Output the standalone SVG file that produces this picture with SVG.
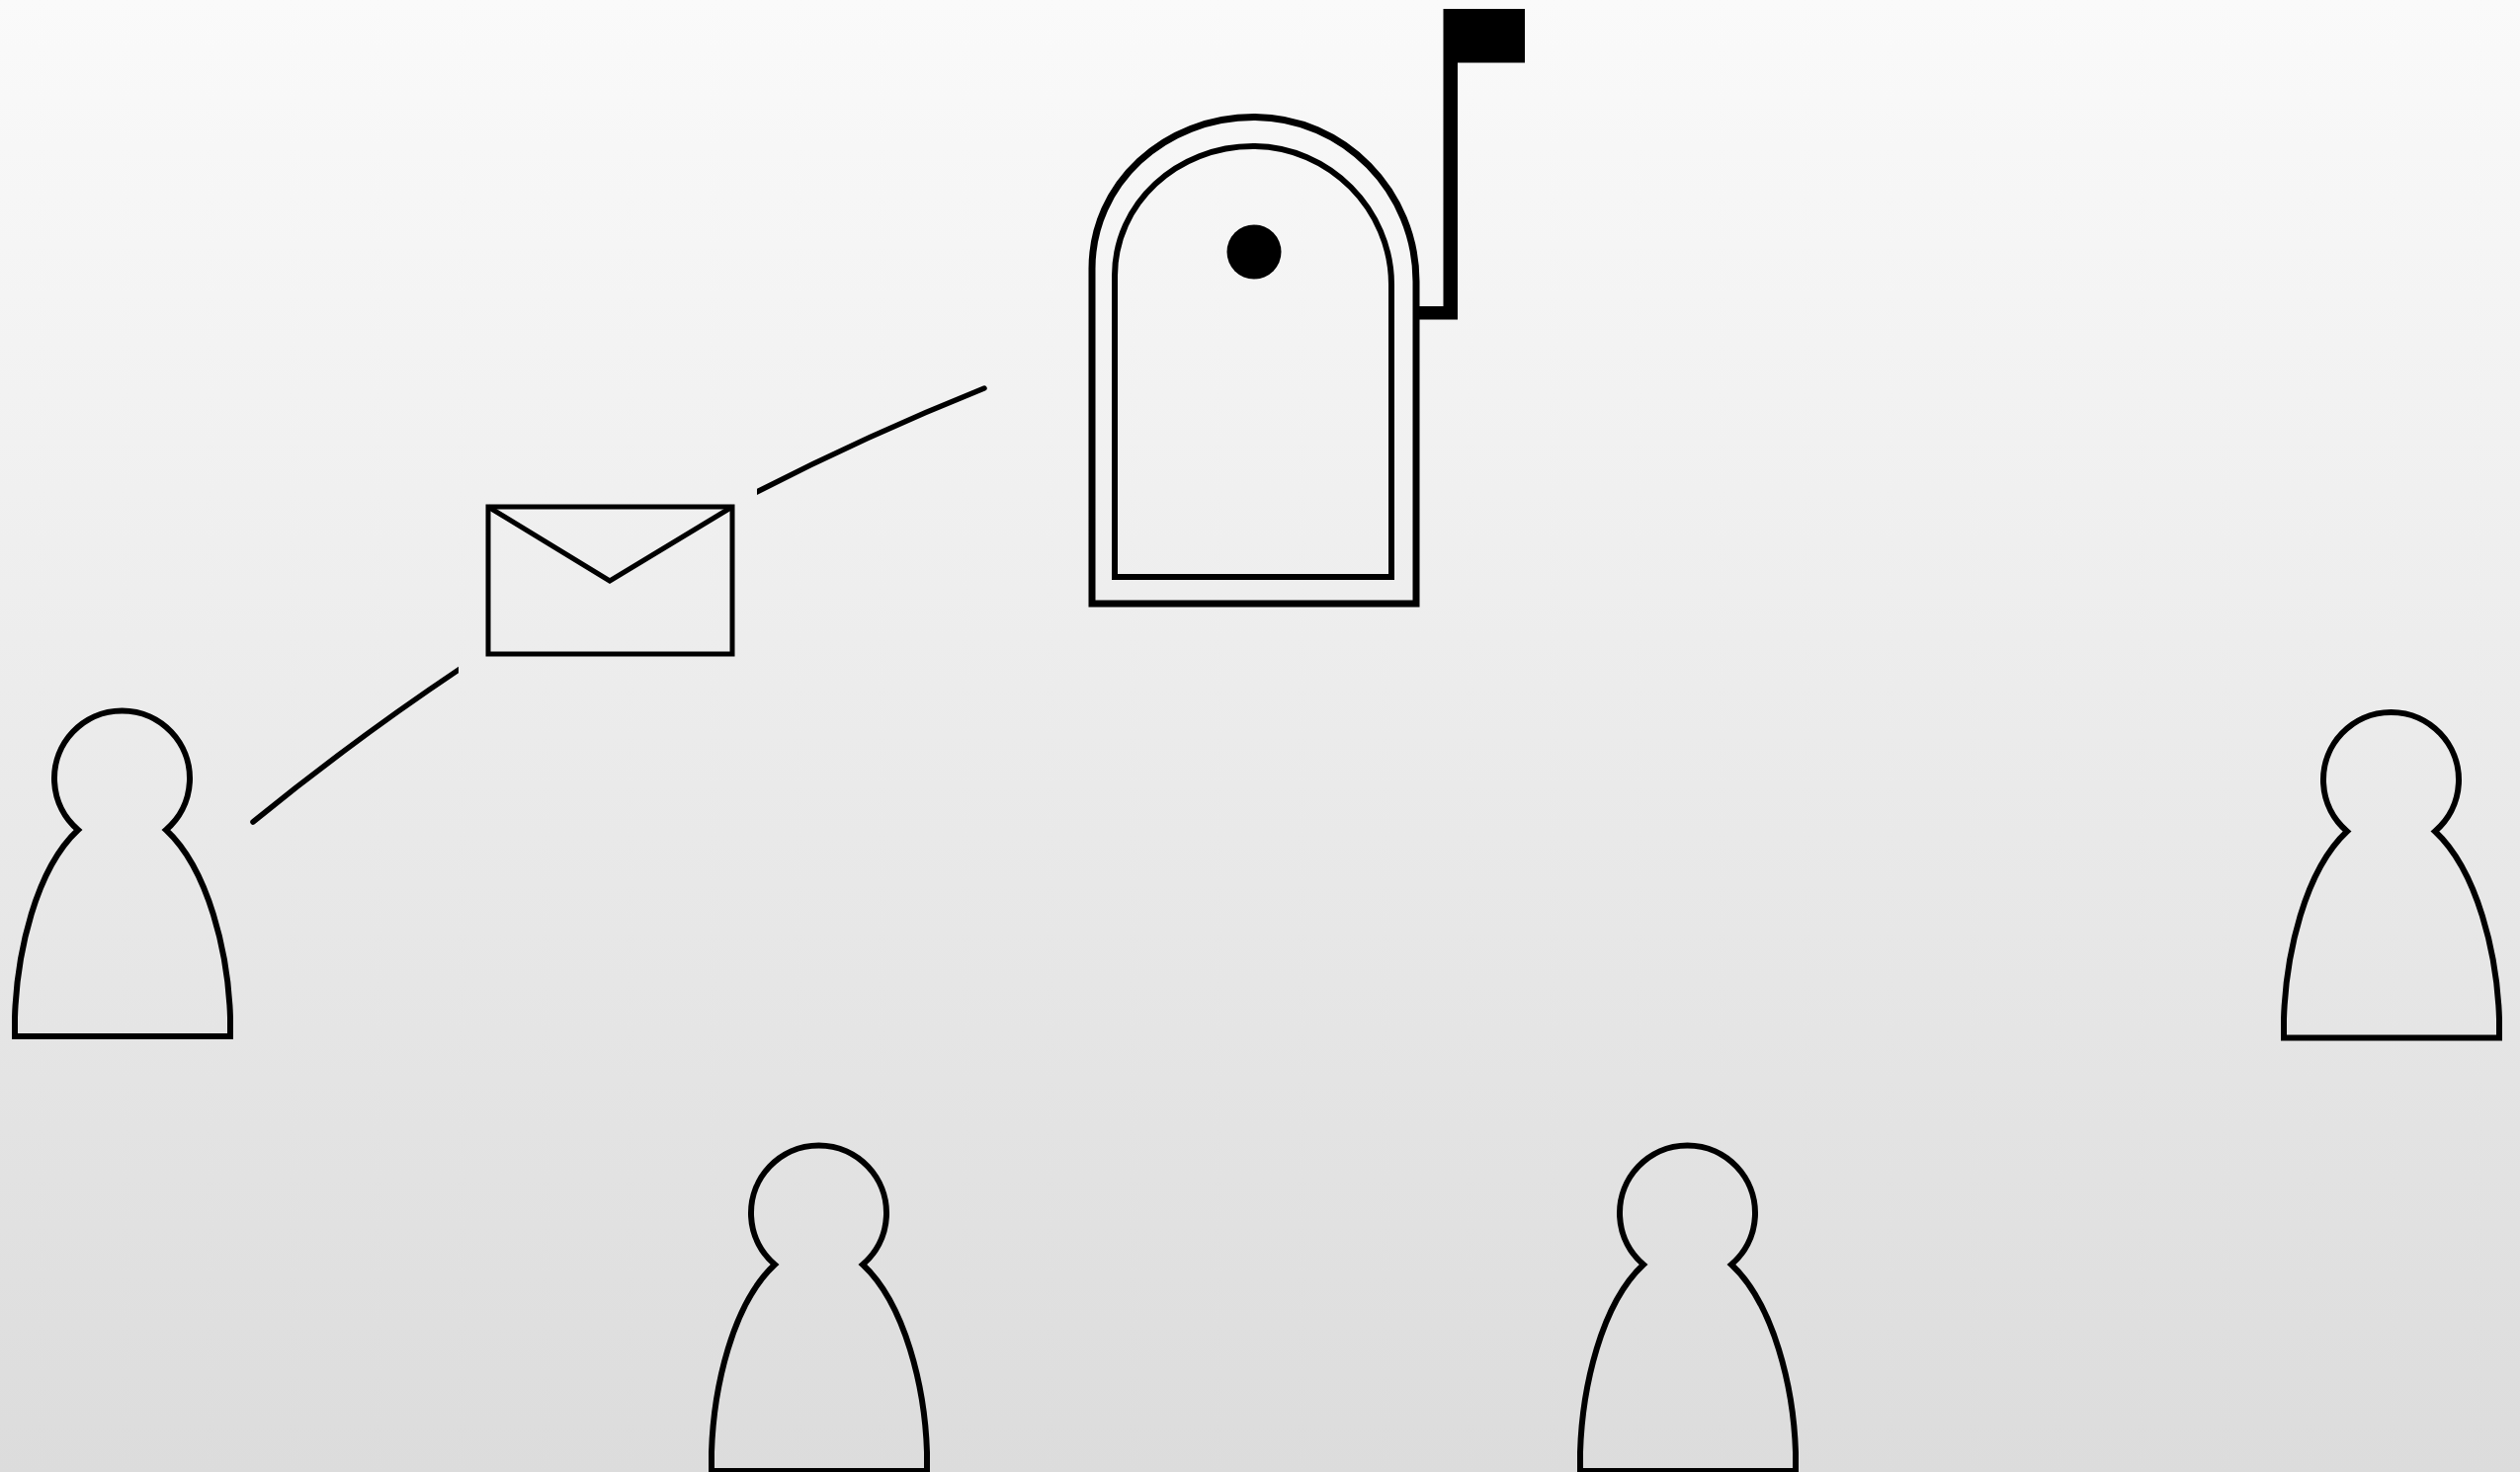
<svg xmlns="http://www.w3.org/2000/svg" width="2550" height="1490" viewBox="0 0 2550 1490">
  <style>
    .o { fill: none; stroke: #000; stroke-linejoin: miter; }
    .person { stroke-width: 6; }
    .conn { fill: none; stroke: #000; stroke-width: 5.5; stroke-linecap: round; }
  </style>
  <defs>
    <linearGradient id="bg" x1="0" y1="0" x2="0" y2="1">
      <stop offset="0" stop-color="#fafafa"/>
      <stop offset="1" stop-color="#dcdcdc"/>
    </linearGradient>
    <path id="pawn" d="M15,1049 V1030 C17,965 36,880 79,840 A68.5,68.5 0 1 1 168,840 C211,880 231,965 233,1030 V1049 Z"/>
    <clipPath id="cl"><rect x="240" y="660" width="224" height="190"/></clipPath>
    <clipPath id="cr"><rect x="766" y="380" width="240" height="130"/></clipPath>
  </defs>
  <rect id="background" width="2550" height="1490" fill="url(#bg)"/>
  <g id="connectors">
    <path class="conn" clip-path="url(#cl)" d="M256,832 Q359,748 470,674"/>
    <path class="conn" clip-path="url(#cr)" d="M760,501 Q875,441.5 996,393"/>
  </g>
  <g id="mailbox">
    <path class="o" stroke-width="7" d="M1105,611 V272 C1105,186 1178,118.5 1269,118.5 C1360,118.5 1433,194 1433,285 V611 Z"/>
    <path class="o" stroke-width="6" d="M1128,584 V279 C1128,206 1191,148 1268,148 C1345,148 1408,212 1408,288 V584 Z"/>
    <ellipse cx="1269" cy="255" rx="27.5" ry="27.5" fill="#000"/>
    <path d="M1433,310 H1460.5 V9 H1543 V63.5 H1475 V323.5 H1433 Z" fill="#000"/>
  </g>
  <g id="envelope">
    <rect class="o" stroke-width="5" x="494" y="513" width="247" height="149"/>
    <path class="o" stroke-width="5" d="M494,513 L617,588 L741,513"/>
  </g>
  <g id="person-1"><use href="#pawn" class="o person"/></g>
  <g id="person-2"><use href="#pawn" class="o person" transform="translate(705,440)"/></g>
  <g id="person-3"><use href="#pawn" class="o person" transform="translate(1584,440)"/></g>
  <g id="person-4"><use href="#pawn" class="o person" transform="translate(2296,1.5)"/></g>
</svg>
